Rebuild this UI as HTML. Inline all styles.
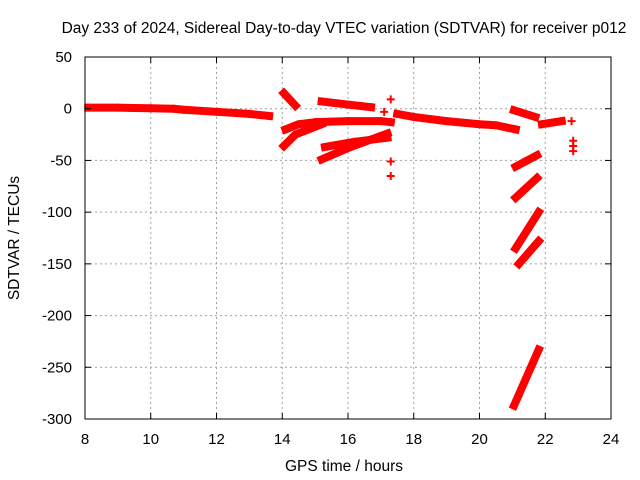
<!DOCTYPE html>
<html><head><meta charset="utf-8"><style>
body{margin:0;background:#fff}
svg{display:block;font-family:"Liberation Sans",sans-serif}
</style></head><body>
<svg id="chart" width="640" height="480">
<text x="344" y="33" font-size="15.5" text-anchor="middle">Day 233 of 2024, Sidereal Day-to-day VTEC variation (SDTVAR) for receiver p012</text>
<text x="344" y="471" font-size="15.5" text-anchor="middle">GPS time / hours</text>
<text x="19" y="238" font-size="15.5" text-anchor="middle" transform="rotate(-90 19 238)">SDTVAR / TECUs</text>
<g id="grid"></g><g id="marks"></g><g id="axes"></g>
</svg>
<script>
const xTicks=[8,10,12,14,16,18,20,22,24];
const yTicks=[50,0,-50,-100,-150,-200,-250,-300];
const trackA=[[8.1,1],[9,1],[10,0.5],[10.7,0],[11,-1],[12,-3],[13,-5],[13.6,-7]];
const trackB=[[14.05,15],[14.4,3]];
const trackC=[[14.1,-20],[14.5,-15],[15,-13],[16,-12],[17,-12],[17.3,-13]];
const trackD=[[14.05,-36],[14.4,-25],[14.8,-20],[15.2,-15]];
const trackE=[[15.2,7],[16,4],[16.7,1.5]];
const trackF=[[15.2,-49],[16,-38],[17.2,-24]];
const trackG=[[15.3,-37],[16.2,-32],[17.2,-28]];
const trackH=[[17.5,-5],[18,-8],[19,-12],[20,-15],[20.5,-16],[21.1,-20]];
const trackI=[[21.05,-1.5],[21.7,-8]];
const trackJ=[[21.9,-15],[22.5,-12]];
const trackK=[[21.1,-56],[21.75,-45]];
const trackL=[[21.1,-86],[21.75,-67]];
const trackM=[[21.1,-135],[21.8,-100]];
const trackN=[[21.2,-150],[21.8,-128]];
const trackO=[[21.05,-287],[21.8,-233]];
const tracks=[trackA,trackB,trackC,trackD,trackE,trackF,trackG,trackH,trackI,trackJ,trackK,trackL,trackM,trackN,trackO];
const dots=[[17.3,9],[17.3,-51],[17.3,-65],[17.1,-3],[22.8,-12],[22.85,-31],[22.85,-36],[22.85,-41]];

const L=85,R=611,T=57,B=419;
const X=t=>L+(t-8)/(24-8)*(R-L);
const Y=v=>T+(50-v)/(50+300)*(B-T);
const NS="http://www.w3.org/2000/svg";
function mk(tag,attrs,parent){const e=document.createElementNS(NS,tag);for(const k in attrs)e.setAttribute(k,attrs[k]);parent.appendChild(e);return e;}
const grid=document.getElementById('grid'),marks=document.getElementById('marks'),axes=document.getElementById('axes');
xTicks.forEach(t=>{
 if(t>8&&t<24){const g=mk('line',{x1:X(t),x2:X(t),y1:T,y2:B,stroke:'#a0a0a0','stroke-dasharray':'2,3'},grid);
 
 }
 mk('line',{x1:X(t),x2:X(t),y1:B,y2:B-6,stroke:'#000'},axes);
 mk('line',{x1:X(t),x2:X(t),y1:T,y2:T+6,stroke:'#000'},axes);
 const l=mk('text',{x:X(t),y:B+25,'font-size':15,'text-anchor':'middle'},axes);l.textContent=t;
 
 
});
yTicks.forEach(v=>{
 if(v<50&&v>-300){const g=mk('line',{x1:L,x2:R,y1:Y(v),y2:Y(v),stroke:'#a0a0a0','stroke-dasharray':'2,3'},grid);
 
 }
 mk('line',{x1:L,x2:L+6,y1:Y(v),y2:Y(v),stroke:'#000'},axes);
 mk('line',{x1:R,x2:R-6,y1:Y(v),y2:Y(v),stroke:'#000'},axes);
 const l=mk('text',{x:L-13,y:Y(v)+5,'font-size':15,'text-anchor':'end'},axes);l.textContent=v;
 
 
});
const f=mk('rect',{x:L,y:T,width:R-L,height:B-T,fill:'none',stroke:'#000'},axes);


tracks.forEach(tr=>{
 const p=mk('polyline',{points:tr.map(d=>X(d[0])+','+Y(d[1])).join(' '),fill:'none',stroke:'#f00','stroke-width':8,'stroke-linecap':'square','stroke-linejoin':'round'},marks);
 
 
});
function plus(t,v){const g=mk('path',{d:`M${X(t)-4},${Y(v)}h8M${X(t)},${Y(v)-4}v8`,stroke:'#f00','stroke-width':2},marks);
 
 }
dots.forEach(d=>plus(d[0],d[1]));
tracks.forEach(tr=>tr.forEach(d=>plus(d[0],d[1])));
</script>
</body></html>
